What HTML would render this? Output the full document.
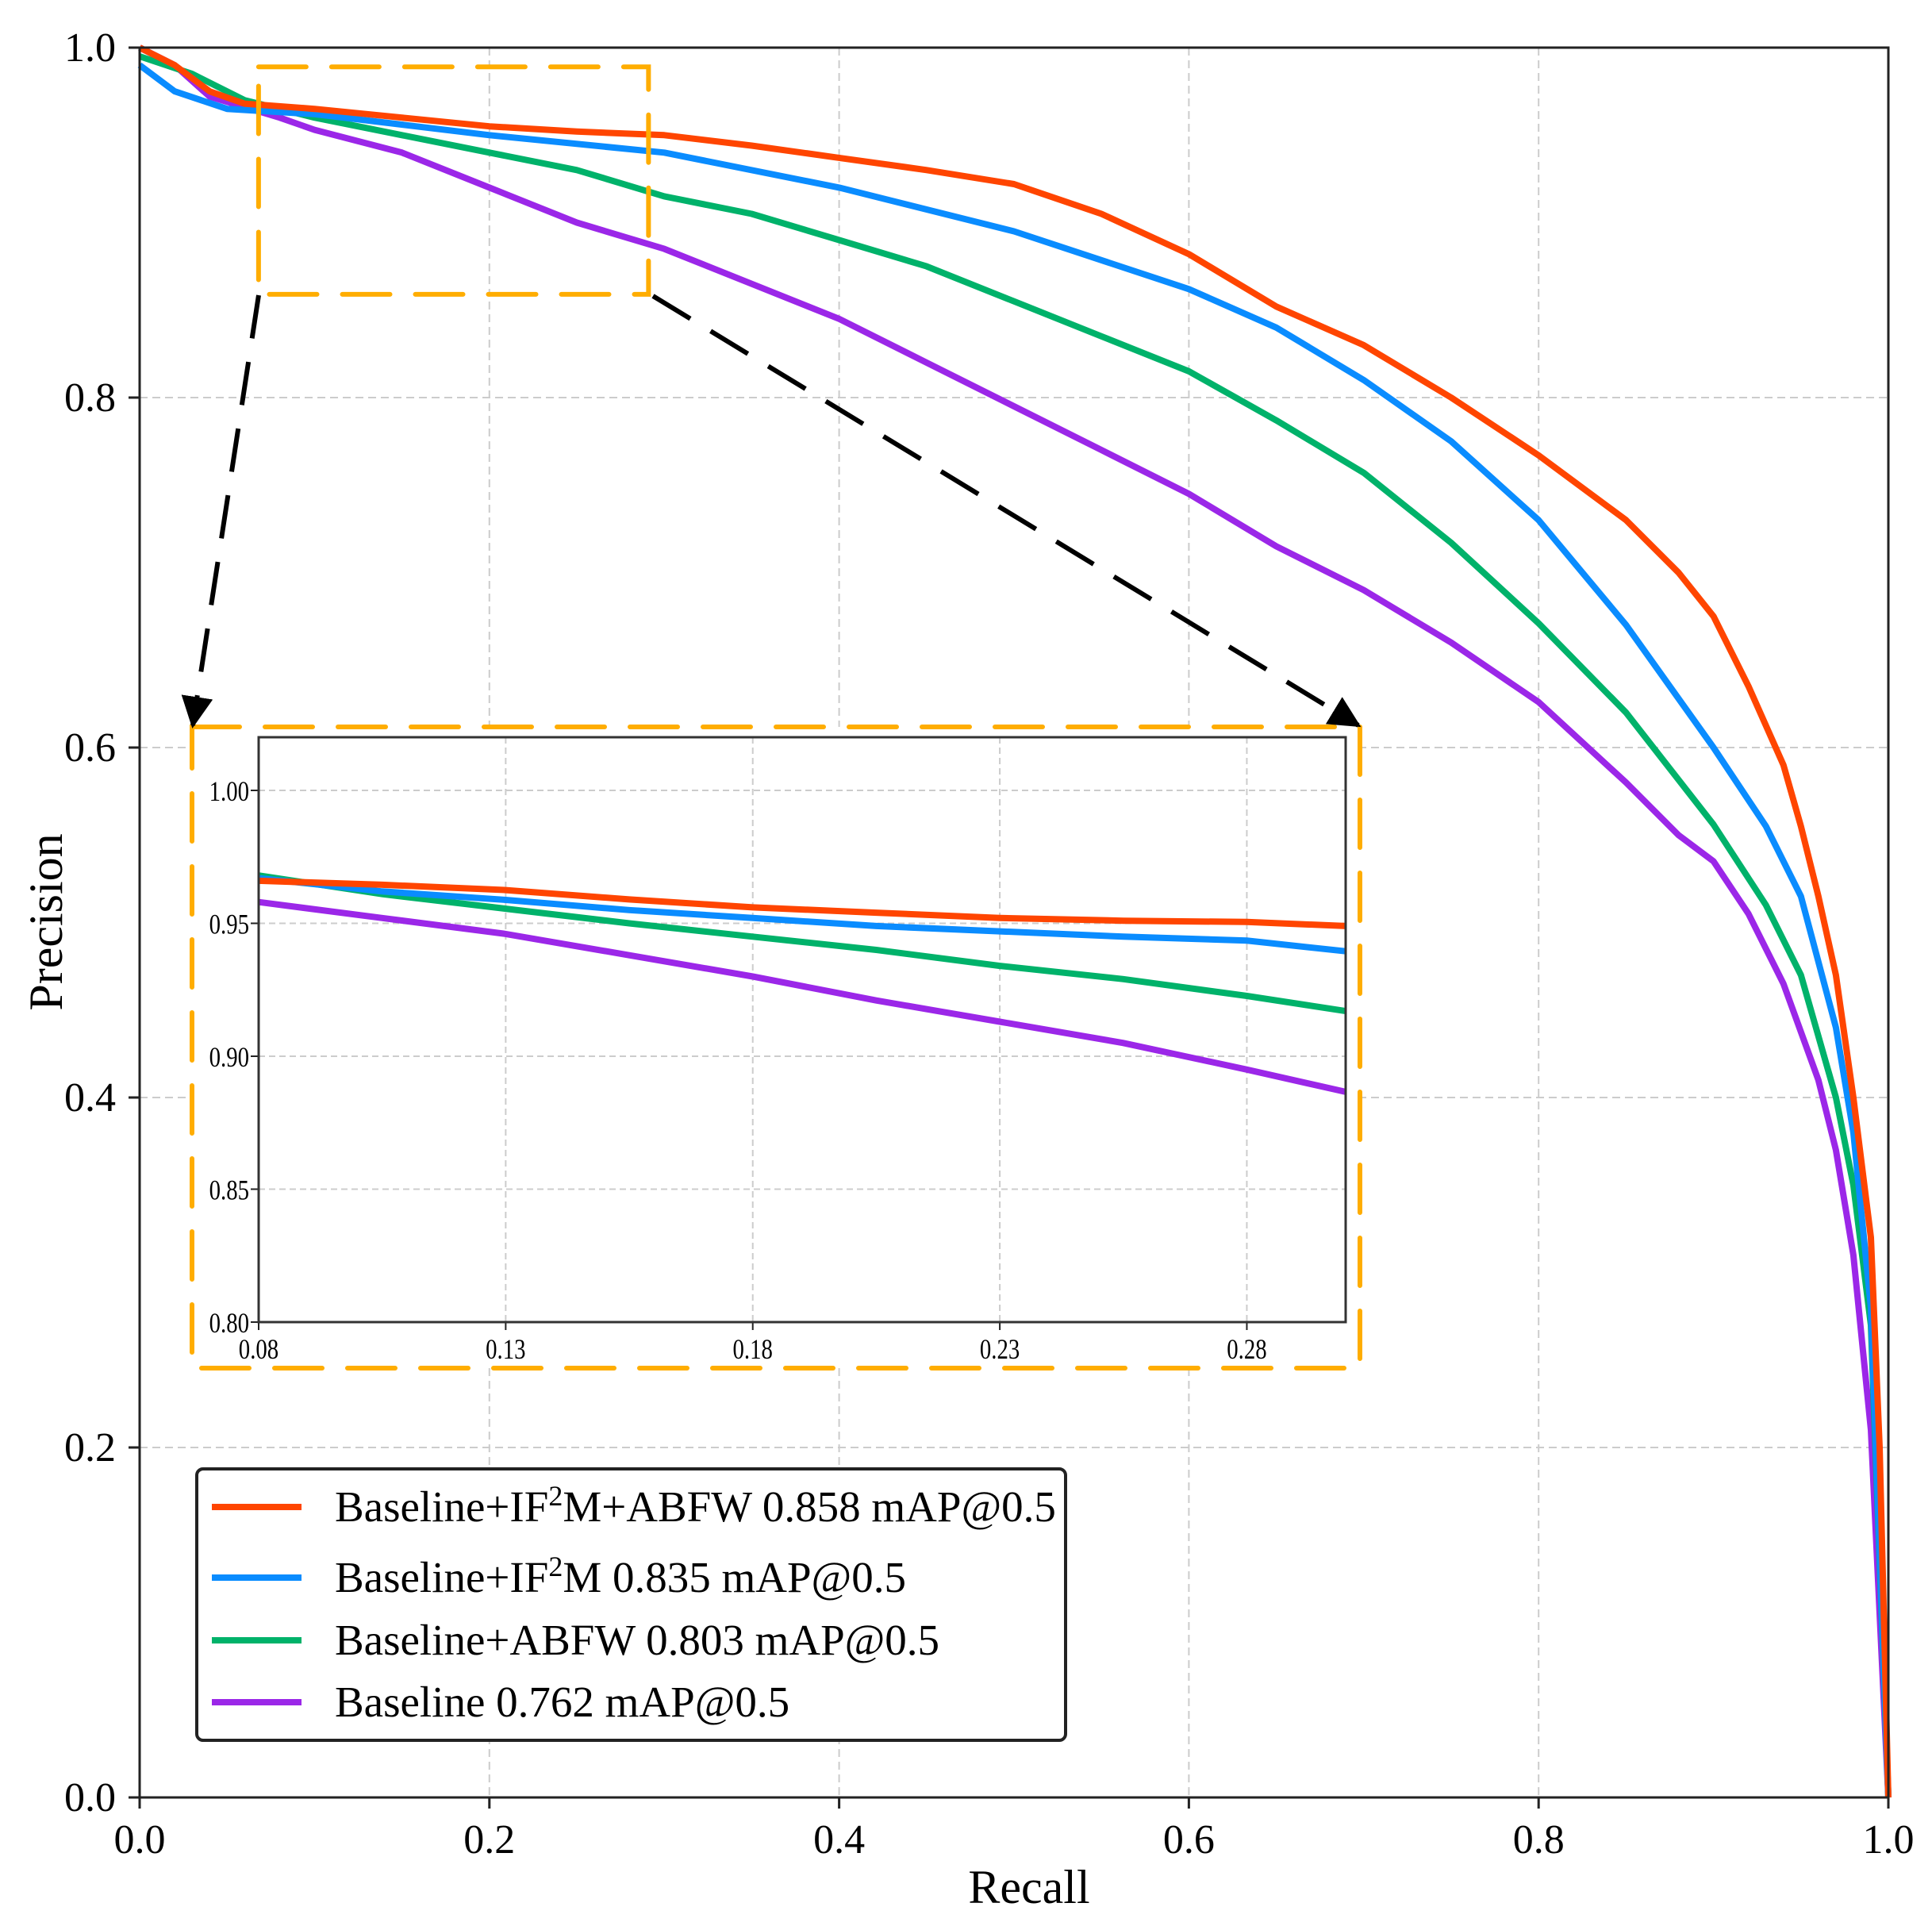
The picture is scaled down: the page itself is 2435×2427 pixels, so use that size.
<!DOCTYPE html>
<html><head><meta charset="utf-8"><style>
html,body{margin:0;padding:0;background:#fff}
svg{display:block}
text{font-family:"Liberation Serif",serif;fill:#000}
</style></head><body>
<svg id="chart" width="2435" height="2427" viewBox="0 0 2435 2427" xmlns="http://www.w3.org/2000/svg"></svg>
<script>
// ---- main chart data ----
const seriesNames = ["Baseline+IF2M+ABFW","Baseline+IF2M","Baseline+ABFW","Baseline"];
const seriesColors = ["#ff4500","#0a8cff","#00b26a","#9b27e8"];
const mainTicks = [0,0.2,0.4,0.6,0.8,1.0];
const mainTickLabels = ["0.0","0.2","0.4","0.6","0.8","1.0"];
const redR = [0,0.02,0.04,0.06,0.1,0.15,0.2,0.25,0.3,0.35,0.4,0.45,0.5,0.55,0.6,0.65,0.7,0.75,0.8,0.85,0.88,0.9,0.92,0.94,0.95,0.96,0.97,0.98,0.99,0.995,1.0];
const redP = [1.0,0.99,0.975,0.968,0.965,0.96,0.955,0.952,0.95,0.944,0.937,0.93,0.922,0.905,0.882,0.852,0.83,0.8,0.767,0.73,0.70,0.675,0.635,0.59,0.555,0.515,0.47,0.4,0.32,0.2,0.0];
const blueR = [0,0.02,0.05,0.1,0.2,0.3,0.4,0.5,0.6,0.65,0.7,0.75,0.8,0.85,0.9,0.93,0.95,0.97,0.98,0.99,1.0];
const blueP = [0.99,0.975,0.965,0.962,0.95,0.94,0.92,0.895,0.862,0.84,0.81,0.775,0.73,0.67,0.60,0.555,0.515,0.44,0.38,0.28,0.0];
const greenR = [0,0.03,0.06,0.1,0.15,0.2,0.25,0.3,0.35,0.4,0.45,0.5,0.55,0.6,0.65,0.7,0.75,0.8,0.85,0.9,0.93,0.95,0.97,0.98,0.99,1.0];
const greenP = [0.995,0.985,0.97,0.96,0.95,0.94,0.93,0.915,0.905,0.89,0.875,0.855,0.835,0.815,0.787,0.757,0.717,0.671,0.62,0.556,0.51,0.47,0.4,0.35,0.27,0.0];
const purpleR = [0,0.02,0.04,0.08,0.1,0.15,0.2,0.25,0.3,0.35,0.4,0.45,0.5,0.55,0.6,0.65,0.7,0.75,0.8,0.85,0.88,0.9,0.92,0.94,0.96,0.97,0.98,0.99,1.0];
const purpleP = [1.0,0.99,0.972,0.96,0.953,0.94,0.92,0.9,0.885,0.865,0.845,0.82,0.795,0.77,0.745,0.715,0.69,0.66,0.626,0.58,0.55,0.535,0.505,0.465,0.41,0.37,0.31,0.21,0.0];
// ---- inset data ----
const insetXTicks = [0.08,0.13,0.18,0.23,0.28];
const insetXTickLabels = ["0.08","0.13","0.18","0.23","0.28"];
const insetYTicks = [0.80,0.85,0.90,0.95,1.00];
const insetYTickLabels = ["0.80","0.85","0.90","0.95","1.00"];
const insetR = [0.08,0.105,0.13,0.155,0.18,0.205,0.23,0.255,0.28,0.30];
const insetRed = [0.966,0.9645,0.9625,0.959,0.956,0.954,0.952,0.951,0.9505,0.949];
const insetBlue = [0.967,0.962,0.9588,0.955,0.952,0.949,0.947,0.945,0.9435,0.9395];
const insetGreen = [0.968,0.961,0.9555,0.950,0.945,0.940,0.934,0.929,0.9227,0.917];
const insetPurple = [0.958,0.952,0.946,0.938,0.930,0.921,0.913,0.905,0.895,0.8866];
const legendLabels = ["0.858 mAP@0.5","0.835 mAP@0.5","0.803 mAP@0.5","0.762 mAP@0.5"];

const NS="http://www.w3.org/2000/svg";
const svg=document.getElementById('chart');
function mk(tag,attrs,parent){const e=document.createElementNS(NS,tag);for(const k in attrs)e.setAttribute(k,attrs[k]);(parent||svg).appendChild(e);return e;}

const L=176,R=2380,T=60,B=2265;
const xS=v=>L+(R-L)*v, yS=v=>B-(B-T)*v;
mainTicks.forEach((t,i)=>{
  if(t>0&&t<1){
    const g=mk('line',{x1:xS(t),x2:xS(t),y1:T,y2:B,stroke:'#cccccc','stroke-width':2,'stroke-dasharray':'10,6'});
    
    
    const h=mk('line',{x1:L,x2:R,y1:yS(t),y2:yS(t),stroke:'#cccccc','stroke-width':2,'stroke-dasharray':'10,6'});
    
    
  }
  const tx=mk('line',{x1:xS(t),x2:xS(t),y1:B,y2:B+14,stroke:'#222','stroke-width':3});
  
  
  const lx=mk('text',{x:xS(t),y:B+70,'font-size':52,'text-anchor':'middle'});
  lx.textContent=mainTickLabels[i];
  
  
  const ty=mk('line',{x1:L-14,x2:L,y1:yS(t),y2:yS(t),stroke:'#222','stroke-width':3});
  
  
  const ly=mk('text',{x:L-30,y:yS(t)+17,'font-size':52,'text-anchor':'end'});
  ly.textContent=mainTickLabels[i];
  
  
});
const mainR=[redR,blueR,greenR,purpleR], mainP=[redP,blueP,greenP,purpleP];
const curveNames=['curve-if2m-abfw','curve-if2m','curve-abfw','curve-baseline'];
[3,2,1,0].forEach(k=>{
  const pts=mainR[k].map((r,i)=>xS(r).toFixed(1)+','+yS(mainP[k][i]).toFixed(1)).join(' ');
  const p=mk('polyline',{points:pts,fill:'none',stroke:seriesColors[k],'stroke-width':8,'stroke-linejoin':'round'});
  
  
});
const frame=mk('rect',{x:L,y:T,width:R-L,height:B-T,fill:'none',stroke:'#222','stroke-width':3});



const xt=mk('text',{x:1297,y:2398,'font-size':60,'text-anchor':'middle'});xt.textContent='Recall';


const yt=mk('text',{x:0,y:0,'font-size':60,'text-anchor':'middle',transform:'translate(78,1162) rotate(-90)'});yt.textContent='Precision';



const zx0=0.068,zx1=0.291,zy0=0.859,zy1=0.989;
const zr=mk('rect',{x:xS(zx0),y:yS(zy1),width:xS(zx1)-xS(zx0),height:yS(zy0)-yS(zy1),fill:'none',stroke:'#ffad00','stroke-width':6,'stroke-dasharray':'60,32','stroke-linecap':'round'});



const iL=326,iR=1696,iT=929,iB=1666;
const ixS=v=>iL+(v-0.08)/0.22*(iR-iL), iyS=v=>iB-(v-0.80)/0.22*(iB-iT);
const ob=mk('rect',{x:242,y:916,width:1472,height:808,fill:'#fff',stroke:'#ffad00','stroke-width':6,'stroke-dasharray':'60,32','stroke-linecap':'round'});



const defs=mk('defs',{});
const mar=mk('marker',{id:'ah',markerWidth:40,markerHeight:40,refX:9,refY:5,orient:'auto',markerUnits:'userSpaceOnUse',viewBox:'0 0 10 10'},defs);
mk('path',{d:'M0,0 L10,5 L0,10 z',fill:'#000'},mar);
const a1=mk('line',{x1:326,y1:372,x2:243,y2:914,stroke:'#000','stroke-width':6,'stroke-dasharray':'55,30','marker-end':'url(#ah)'});


const a2=mk('line',{x1:823,y1:373,x2:1712,y2:914,stroke:'#000','stroke-width':6,'stroke-dasharray':'55,30','marker-end':'url(#ah)'});



insetXTicks.forEach((t,i)=>{
  const g=mk('line',{x1:ixS(t),x2:ixS(t),y1:iT,y2:iB,stroke:'#cccccc','stroke-width':2,'stroke-dasharray':'8,5'});
  
  
  const l=mk('text',{x:ixS(t),y:iB+46,'font-size':36,'text-anchor':'middle',transform:`translate(${ixS(t)*0.2},0) scale(0.8,1)`});
  l.textContent=insetXTickLabels[i];
  
  
  const tk=mk('line',{x1:ixS(t),x2:ixS(t),y1:iB,y2:iB+10,stroke:'#222','stroke-width':2});
  
  
});
insetYTicks.forEach((t,i)=>{
  const g=mk('line',{x1:iL,x2:iR,y1:iyS(t),y2:iyS(t),stroke:'#cccccc','stroke-width':2,'stroke-dasharray':'8,5'});
  
  
  const l=mk('text',{x:iL-12,y:iyS(t)+13,'font-size':36,'text-anchor':'end',transform:`translate(${(iL-12)*0.2},0) scale(0.8,1)`});
  l.textContent=insetYTickLabels[i];
  
  
  const tk=mk('line',{x1:iL-10,x2:iL,y1:iyS(t),y2:iyS(t),stroke:'#222','stroke-width':2});
  
  
});
const insetP=[insetRed,insetBlue,insetGreen,insetPurple];
[3,2,1,0].forEach(k=>{
  const pts=insetR.map((r,i)=>ixS(r).toFixed(1)+','+iyS(insetP[k][i]).toFixed(1)).join(' ');
  const p=mk('polyline',{points:pts,fill:'none',stroke:seriesColors[k],'stroke-width':8});
  
  
});
const ifr=mk('rect',{x:iL,y:iT,width:iR-iL,height:iB-iT,fill:'none',stroke:'#333','stroke-width':3});



const lg=mk('rect',{x:248,y:1851,width:1095,height:342,rx:8,fill:'#fff',stroke:'#222','stroke-width':4});


const ly0=[1899,1988,2067,2145];
const lprefix=['Baseline+IF','Baseline+IF','Baseline+ABFW ','Baseline '];
ly0.forEach((y,k)=>{
  const s=mk('line',{x1:267,x2:380,y1:y,y2:y,stroke:seriesColors[k],'stroke-width':8});
  
  
  const t=mk('text',{x:422,y:y+18,'font-size':55});
  
  
  if(k<2){
    const a=mk('tspan',{},t);a.textContent='Baseline+IF';
    const b=mk('tspan',{dy:-20,'font-size':36},t);b.textContent='2';
    const c=mk('tspan',{dy:20},t);c.textContent=(k===0?'M+ABFW ':'M ')+legendLabels[k];
  } else {
    t.textContent=lprefix[k]+legendLabels[k];
  }
});
</script>
</body></html>
